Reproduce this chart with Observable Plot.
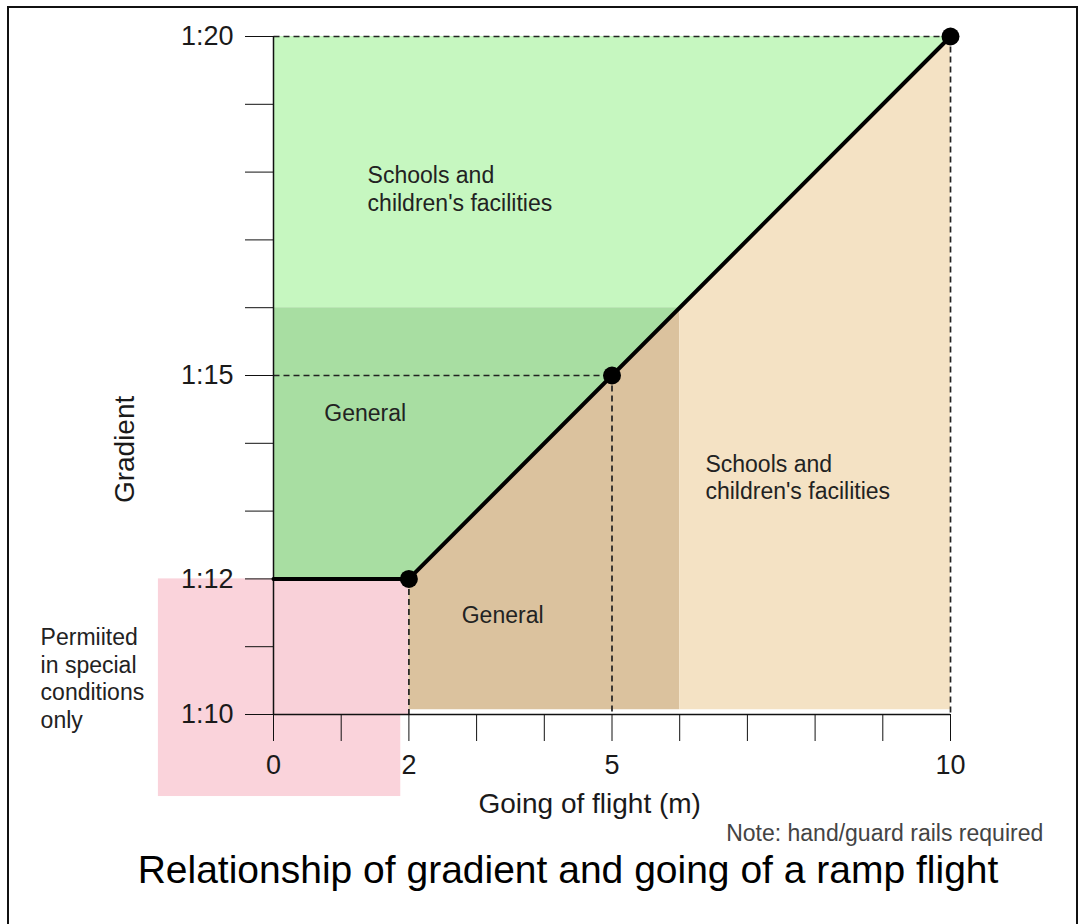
<!DOCTYPE html>
<html>
<head>
<meta charset="utf-8">
<script src="https://cdn.jsdelivr.net/npm/d3@7"></script>
<script src="https://cdn.jsdelivr.net/npm/@observablehq/plot@0.6"></script>
<style>
  html, body { margin: 0; padding: 0; background: #fff; }
  body { width: 1081px; height: 924px; position: relative; overflow: hidden; font-family: "Liberation Sans", Arial, sans-serif; }
  #chart { position: absolute; left: 0; top: 0; }
  #frame { position: absolute; left: 7px; top: 6px; width: 1071px; height: 960px; border: 2px solid #111; box-sizing: border-box; pointer-events: none; }
  #title { position: absolute; left: 568px; top: 850px; transform: translateX(-50%); white-space: nowrap; font-size: 39px; line-height: 1; color: #000; }
</style>
</head>
<body>
<div id="chart"></div>
<div id="title">Relationship of gradient and going of a ramp flight</div>
<div id="frame"></div>
<script>
// ---- data ----
const xTicks = [0, 1, 2, 3, 4, 5, 6, 7, 8, 9, 10];
const xTickLabels = {0: "0", 2: "2", 5: "5", 10: "10"};
const yTicks = [10, 11, 12, 13, 14, 15, 16, 17, 18, 19, 20];
const yTickLabels = {10: "1:10", 12: "1:12", 15: "1:15", 20: "1:20"};

// limit line (going in m vs gradient 1:n)
const limitX = [0, 2, 10];
const limitN = [12, 12, 20];
// marked points
const pointX = [2, 5, 10];
const pointN = [12, 15, 20];

// dashed reference segments
const dashX1 = [0, 10, 0, 5, 2];
const dashN1 = [20, 20, 15, 15, 12];
const dashX2 = [10, 10, 5, 5, 2];
const dashN2 = [20, 10, 15, 10, 10];

// shaded zones (x, lower n, upper n)
const schoolsAboveX = [0, 6, 10];
const schoolsAboveLow = [16, 16, 20];
const schoolsAboveHigh = [20, 20, 20];
const generalAboveX = [0, 2, 6];
const generalAboveLow = [12, 12, 16];
const generalAboveHigh = [16, 16, 16];
const generalBelowX = [2, 6];
const generalBelowLow = [10.07, 10.07];
const generalBelowHigh = [12, 16];
const schoolsBelowX = [6, 10];
const schoolsBelowLow = [10.07, 10.07];
const schoolsBelowHigh = [16, 20];
// special conditions box (outer) and its part inside the axes
const specialX = [-1.7, 1.88];
const specialN = [8.79, 12];
const specialInnerX = [0, 2];
const specialInnerN = [10, 12];

// ---- build ----
const zone = (xs, lo, hi) => xs.map((x, i) => ({x, y1: lo[i], y2: hi[i]}));
const limit = limitX.map((x, i) => ({x, y: limitN[i]}));
const pts = pointX.map((x, i) => ({x, y: pointN[i]}));
const dashes = dashX1.map((x, i) => ({x1: x, y1: dashN1[i], x2: dashX2[i], y2: dashN2[i]}));

const FONT = "Liberation Sans, Arial, sans-serif";
const txt = {fontSize: 23, fontFamily: FONT, fill: "#222", textAnchor: "start", lineAnchor: "top", lineHeight: 1.19};

const chart = Plot.plot({
  width: 1081,
  height: 850,
  marginLeft: 273,
  marginRight: 131,
  marginTop: 36,
  marginBottom: 136,
  x: {domain: [0, 10]},
  y: {domain: [10, 20]},
  style: {fontFamily: FONT, fontSize: "27px", color: "#1a1a1a", background: "transparent"},
  marks: [
    Plot.rect([{x1: specialX[0], x2: specialX[1], y1: specialN[0], y2: specialN[1]}], {x1: "x1", x2: "x2", y1: "y1", y2: "y2", fill: "#fad3db"}),
    Plot.rect([{x1: specialInnerX[0], x2: specialInnerX[1], y1: specialInnerN[0], y2: specialInnerN[1]}], {x1: "x1", x2: "x2", y1: "y1", y2: "y2", fill: "#f9d1d9"}),
    Plot.areaY(zone(schoolsAboveX, schoolsAboveLow, schoolsAboveHigh), {x: "x", y1: "y1", y2: "y2", fill: "#c6f7c0"}),
    Plot.areaY(zone(generalAboveX, generalAboveLow, generalAboveHigh), {x: "x", y1: "y1", y2: "y2", fill: "#a8dea2"}),
    Plot.areaY(zone(generalBelowX, generalBelowLow, generalBelowHigh), {x: "x", y1: "y1", y2: "y2", fill: "#dbc29e"}),
    Plot.areaY(zone(schoolsBelowX, schoolsBelowLow, schoolsBelowHigh), {x: "x", y1: "y1", y2: "y2", fill: "#f4e2c4"}),
    Plot.link(dashes, {x1: "x1", y1: "y1", x2: "x2", y2: "y2", stroke: "#222", strokeWidth: 1.7, strokeDasharray: "6,4"}),
    Plot.ruleX([0], {y1: 10, y2: 20, stroke: "#111", strokeWidth: 1.5}),
    Plot.ruleY([10], {x1: 0, x2: 10, stroke: "#111", strokeWidth: 1.5}),
    Plot.axisY({ticks: yTicks, tickSize: 28, tickPadding: 12, tickFormat: d => yTickLabels[d] ?? "", label: null, stroke: "#111"}),
    Plot.axisX({ticks: xTicks, tickSize: 27, tickPadding: 13, tickFormat: d => xTickLabels[d] ?? "", label: null, stroke: "#111"}),
    Plot.line(limit, {x: "x", y: "y", stroke: "#000", strokeWidth: 4}),
    Plot.dot(pts, {x: "x", y: "y", r: 9, fill: "#000"}),
    Plot.text(["Schools and\nchildren's facilities"], {...txt, x: 1.39, y: 18.12}),
    Plot.text(["General"], {...txt, x: 0.75, y: 14.62}),
    Plot.text(["Schools and\nchildren's facilities"], {...txt, x: 6.38, y: 13.87}),
    Plot.text(["General"], {...txt, x: 2.78, y: 11.63}),
    Plot.text(["Permiited\nin special\nconditions\nonly"], {...txt, x: -3.44, y: 11.31, lineHeight: 1.2}),
    Plot.text(["Going of flight (m)"], {fontSize: 28, fontFamily: FONT, fill: "#1a1a1a", x: 4.67, y: 8.84, lineAnchor: "top"}),
    Plot.text(["Gradient"], {fontSize: 28, fontFamily: FONT, fill: "#1a1a1a", x: -2.2, y: 13.91, rotate: -90}),
    Plot.text(["Note: hand/guard rails required"], {fontSize: 23, fontFamily: FONT, fill: "#444", x: 11.37, y: 8.37, textAnchor: "end", lineAnchor: "top"})
  ]
});
document.getElementById("chart").appendChild(chart);
</script>
</body>
</html>
